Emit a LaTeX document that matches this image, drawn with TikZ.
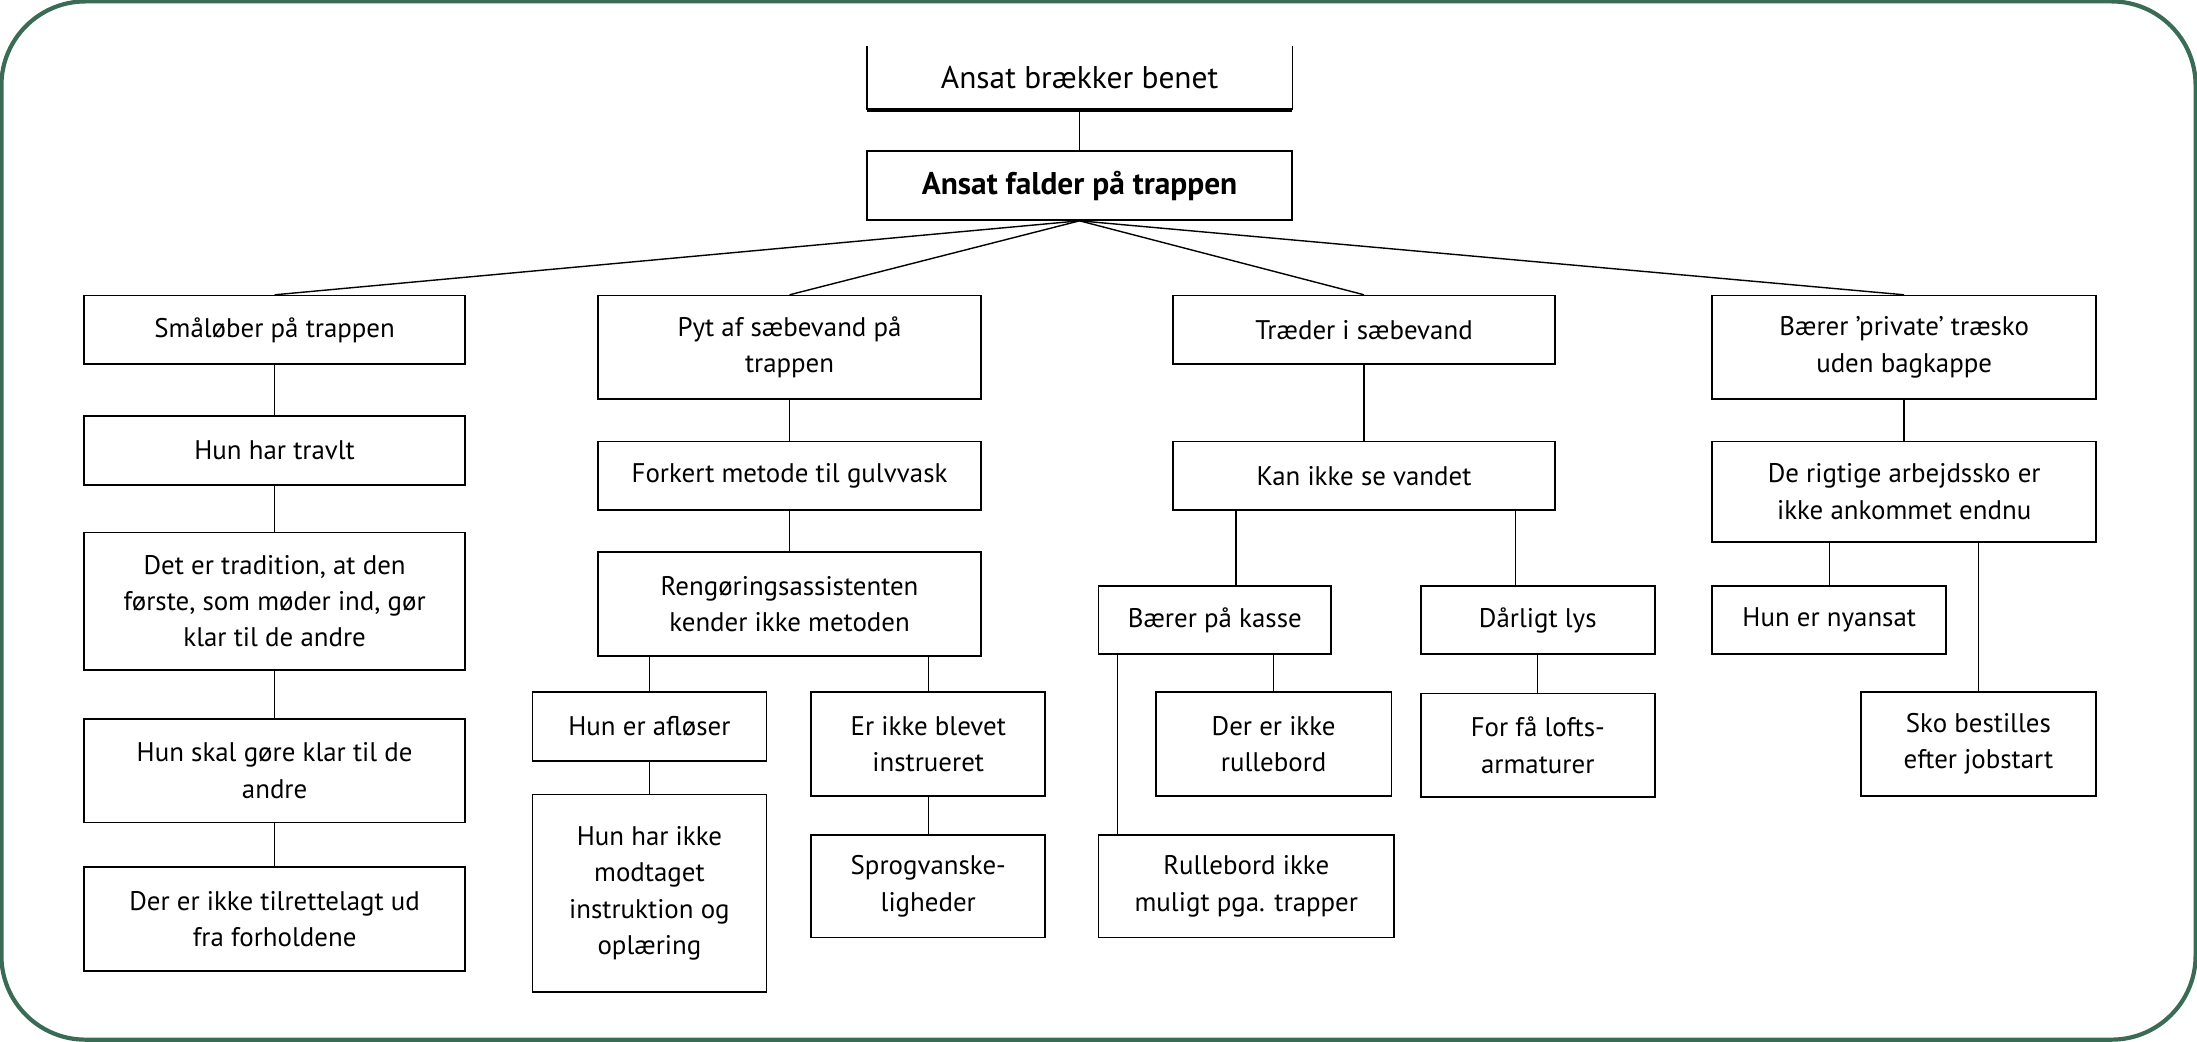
\documentclass[tikz,border=0pt]{standalone}
\usepackage{fontspec}
\setmainfont{PT Sans}
\definecolor{frame}{HTML}{3A6B55}
\begin{document}
\begin{tikzpicture}[x=0.5pt,y=-0.5pt,
  box/.style={draw,line width=0.6pt,align=center,font=\fontsize{9.6}{13}\selectfont,inner sep=0pt},
  con/.style={line width=0.5pt}]
\useasboundingbox (0,0) rectangle (1568,743);
\draw[frame,line width=1.5pt,rounded corners=30pt] (1,1) rectangle (1567,742);
\newcommand\bx[6]{\node[box,minimum width={(#4-#2)*0.5pt},minimum height={(#5-#3)*0.5pt}] (#1) at ({(#2+#4)/2},{(#3+#5)/2}) {#6};}
% top
\node[align=center,font=\fontsize{11.2}{13}\selectfont,minimum width=151.5pt,minimum height=22.5pt,inner sep=0pt] (t) at (770.5,55.5) {Ansat brækker benet};
\draw[line width=0.6pt] (t.north west) -- (t.south west);
\draw[line width=0.6pt] (t.north east) -- (t.south east);
\draw[line width=1.2pt] (t.south west) -- (t.south east);
\node[box,minimum width=151.5pt,minimum height=24.5pt,font=\fontsize{11.2}{13}\selectfont\bfseries] (m) at (770.5,132.5) {Ansat falder på trappen};
\draw[con] (t.south) -- (m.north);
% level 1
\bx{a1}{60}{211}{332}{260}{Småløber på trappen}
\bx{b1}{427}{211}{700}{285}{Pyt af sæbevand på\\trappen}
\bx{c1}{837}{211}{1110}{260}{Træder i sæbevand}
\bx{d1}{1222}{211}{1496}{285}{Bærer ’private’ træsko\\uden bagkappe}
\foreach \n in {a1,b1,c1,d1} \draw[con] (m.south) -- (\n.north);
% column A
\bx{a2}{60}{297}{332}{346}{Hun har travlt}
\bx{a3}{60}{380}{332}{478}{Det er tradition, at den\\første, som møder ind, gør\\klar til de andre}
\bx{a4}{60}{513}{332}{587}{Hun skal gøre klar til de\\andre}
\bx{a5}{60}{619}{332}{693}{Der er ikke tilrettelagt ud\\fra forholdene}
\draw[con] (a1)--(a2) (a2)--(a3) (a3)--(a4) (a4)--(a5);
% column B
\bx{b2}{427}{315}{700}{364}{Forkert metode til gulvvask}
\bx{b3}{427}{394}{700}{468}{Rengøringsassistenten\\kender ikke metoden}
\bx{b4}{380}{494}{547}{543}{Hun er afløser}
\bx{b5}{579}{494}{746}{568}{Er ikke blevet\\instrueret}
\bx{b6}{380}{567}{547}{708}{Hun har ikke\\modtaget\\instruktion og\\oplæring}
\bx{b7}{579}{596}{746}{669}{Sprogvanske-\\ligheder}
\draw[con] (b1)--(b2) (b2)--(b3);
\draw[con] (b4.north |- b3.south) -- (b4.north);
\draw[con] (b5.north |- b3.south) -- (b5.north);
\draw[con] (b4) -- (b6);
\draw[con] (b5) -- (b7);
% column C
\bx{c2}{837}{315}{1110}{364}{Kan ikke se vandet}
\bx{c3}{784}{418}{950}{467}{Bærer på kasse}
\bx{c4}{1014}{418}{1181}{467}{Dårligt lys}
\bx{c5}{825}{494}{993}{568}{Der er ikke\\rullebord}
\bx{c6}{784}{596}{995}{669}{Rullebord ikke\\muligt pga. trapper}
\bx{c7}{1014}{495}{1181}{569}{For få lofts-\\armaturer}
\draw[con] (c1)--(c2);
\draw[con] ([xshift=7.5pt]c3.north |- c2.south) -- ([xshift=7.5pt]c3.north);
\draw[con] ([xshift=-8pt]c4.north |- c2.south) -- ([xshift=-8pt]c4.north);
\draw[con] (c5.north |- c3.south) -- (c5.north);
\draw[con] ([xshift=7pt]c3.south west) -- ([xshift=7pt]c3.south west |- c6.north);
\draw[con] (c7.north |- c4.south) -- (c7.north);
% column D
\bx{d2}{1222}{315}{1496}{387}{De rigtige arbejdssko er\\ikke ankommet endnu}
\bx{d3}{1222}{418}{1389}{467}{Hun er nyansat}
\bx{d4}{1328}{494}{1496}{568}{Sko bestilles\\efter jobstart}
\draw[con] (d1)--(d2);
\draw[con] (d3.north |- d2.south) -- (d3.north);
\draw[con] (d4.north |- d2.south) -- (d4.north);
\end{tikzpicture}
\end{document}
